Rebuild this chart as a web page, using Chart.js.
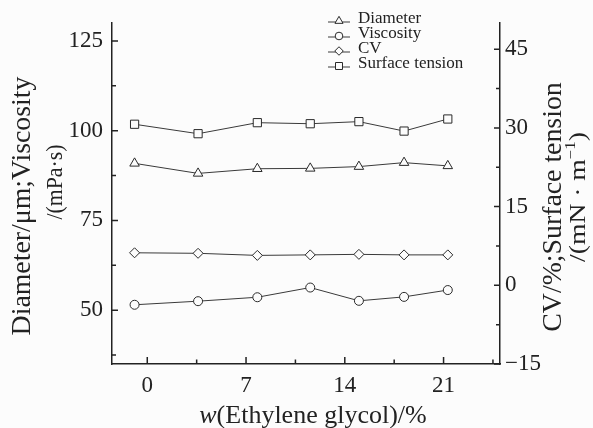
<!DOCTYPE html>
<html>
<head>
<meta charset="utf-8">
<script src="https://cdn.jsdelivr.net/npm/chart.js@4.4.0/dist/chart.umd.min.js"></script>
<style>
  html, body { margin: 0; padding: 0; background: #fcfcfc; }
  #wrap { width: 593px; height: 428px; }
</style>
</head>
<body>
<div id="wrap"><canvas id="chart" width="593" height="428"></canvas></div>
<script>
// values
const glycol = [-0.9, 3.6, 7.8, 11.55, 15.0, 18.2, 21.3];
const diameter = [90.9, 88.1, 89.4, 89.5, 90.0, 91.1, 90.2];
const viscosity = [51.5, 52.5, 53.6, 56.3, 52.6, 53.7, 55.6];
const cv = [6.2, 6.1, 5.7, 5.8, 5.9, 5.8, 5.8];
const surfaceTension = [30.7, 28.9, 31.0, 30.8, 31.2, 29.4, 31.7];

const xTicks = [0, 7, 14, 21];
const xMinorTicks = [3.5, 10.5, 17.5, 24.5];
const leftTicks = [50, 75, 100, 125];
const leftMinorTicks = [37.5, 62.5, 87.5, 112.5];
const rightTicks = [-15, 0, 15, 30, 45];
const rightMinorTicks = [-7.5, 7.5, 22.5, 37.5];

const serif = "'Liberation Serif', 'Times New Roman', serif";
const ink = '#222';
const paper = '#fcfcfc';

function series(label, values, axis, style, radius) {
  return {
    label: label,
    yAxisID: axis,
    data: values.map((v, i) => ({ x: glycol[i], y: v })),
    borderColor: '#3a3a3a',
    borderWidth: 1,
    pointStyle: style,
    pointRadius: radius,
    pointBackgroundColor: paper,
    pointBorderColor: '#2a2a2a',
    pointBorderWidth: 1,
    tension: 0
  };
}

function setTicks(list) {
  return function (scale) { scale.ticks = list.map(v => ({ value: v })); };
}

// ticks point into the plot, majors longer than minors
const innerTicks = {
  id: 'innerTicks',
  afterDraw(chart) {
    const ctx = chart.ctx;
    const a = chart.chartArea;
    const x = chart.scales.x, y = chart.scales.y, y1 = chart.scales.y1;
    ctx.save();
    ctx.strokeStyle = ink;
    ctx.lineWidth = 1.5;
    ctx.beginPath();
    xTicks.forEach(v => { const p = x.getPixelForValue(v); ctx.moveTo(p, a.bottom); ctx.lineTo(p, a.bottom - 7); });
    xMinorTicks.forEach(v => { const p = x.getPixelForValue(v); ctx.moveTo(p, a.bottom); ctx.lineTo(p, a.bottom - 4.5); });
    leftTicks.forEach(v => { const p = y.getPixelForValue(v); ctx.moveTo(a.left, p); ctx.lineTo(a.left + 6, p); });
    leftMinorTicks.forEach(v => { const p = y.getPixelForValue(v); ctx.moveTo(a.left, p); ctx.lineTo(a.left + 4, p); });
    rightTicks.forEach(v => { const p = y1.getPixelForValue(v); ctx.moveTo(a.right, p); ctx.lineTo(a.right - 6, p); });
    rightMinorTicks.forEach(v => { const p = y1.getPixelForValue(v); ctx.moveTo(a.right, p); ctx.lineTo(a.right - 4, p); });
    ctx.stroke();
    ctx.restore();
  }
};

// parts: [text, font, dy]; stretch widens along the text direction
function drawParts(ctx, parts, cx, cy, stretch) {
  stretch = stretch || 1;
  let total = 0;
  parts.forEach(p => { ctx.font = p[1]; total += ctx.measureText(p[0]).width; });
  ctx.save();
  ctx.translate(cx, cy);
  ctx.scale(stretch, 1);
  let pos = -total / 2;
  parts.forEach(p => {
    ctx.font = p[1];
    ctx.fillText(p[0], pos, p[2] || 0);
    pos += ctx.measureText(p[0]).width;
  });
  ctx.restore();
}

function rotated(ctx, x, y, fn) {
  ctx.save();
  ctx.translate(x, y);
  ctx.rotate(-Math.PI / 2);
  fn();
  ctx.restore();
}

const axisTitles = {
  id: 'axisTitles',
  afterDraw(chart) {
    const ctx = chart.ctx;
    const big = '27px ' + serif;
    const mid = '23px ' + serif;
    ctx.save();
    ctx.fillStyle = ink;
    ctx.textBaseline = 'middle';
    ctx.textAlign = 'left';
    drawParts(ctx, [['w', 'italic 26px ' + serif], ['(Ethylene glycol)/%', '26px ' + serif]], 313, 416);

    rotated(ctx, 23, 206, () => drawParts(ctx, [['Diameter/μm;Viscosity', big]], 0, 0, 1.03));
    rotated(ctx, 56, 182, () => drawParts(ctx, [['/(mPa·s)', mid]], 0, 0, 0.95));
    rotated(ctx, 554, 207, () => drawParts(ctx, [['CV/%;Surface tension', big]], 0, 0, 1.03));
    rotated(ctx, 579, 197, () => drawParts(ctx,
      [['/(mN · m', mid], ['−1', '14px ' + serif, -8], [')', mid]], 0, 0, 1.2));

    ctx.restore();
  }
};

function marker(ctx, style, x, y, r) {
  ctx.beginPath();
  if (style === 'triangle') {
    ctx.moveTo(x, y - r);
    ctx.lineTo(x + r * 0.866, y + r * 0.5);
    ctx.lineTo(x - r * 0.866, y + r * 0.5);
    ctx.closePath();
  } else if (style === 'circle') {
    ctx.arc(x, y, r, 0, Math.PI * 2);
  } else if (style === 'rectRot') {
    ctx.moveTo(x, y - r); ctx.lineTo(x + r, y); ctx.lineTo(x, y + r); ctx.lineTo(x - r, y);
    ctx.closePath();
  } else {
    const s = r * Math.SQRT1_2;
    ctx.rect(x - s, y - s, 2 * s, 2 * s);
  }
  ctx.fill();
  ctx.stroke();
}

const cornerLegend = {
  id: 'cornerLegend',
  afterDraw(chart) {
    const ctx = chart.ctx;
    ctx.save();
    ctx.font = '17px ' + serif;
    ctx.textBaseline = 'middle';
    chart.data.datasets.forEach((ds, i) => {
      const yy = 19 + i * 15;
      ctx.strokeStyle = '#3a3a3a';
      ctx.lineWidth = 1;
      ctx.beginPath();
      ctx.moveTo(328, yy + 3); ctx.lineTo(350, yy + 3);
      ctx.stroke();
      ctx.fillStyle = paper;
      ctx.strokeStyle = '#2a2a2a';
      marker(ctx, ds.pointStyle, 339, yy + 2, ds.pointRadius * 0.85);
      ctx.fillStyle = ink;
      ctx.fillText(ds.label, 358, yy);
    });
    ctx.restore();
  }
};

const tickFont = { family: serif, size: 23 };

new Chart(document.getElementById('chart'), {
  type: 'line',
  data: {
    datasets: [
      series('Diameter', diameter, 'y', 'triangle', 5.5),
      series('Viscosity', viscosity, 'y', 'circle', 4.5),
      series('CV', cv, 'y1', 'rectRot', 5),
      series('Surface tension', surfaceTension, 'y1', 'rect', 5.8)
    ]
  },
  options: {
    responsive: false,
    animation: false,
    layout: { padding: { top: 23, left: 0, right: 0, bottom: 0 } },
    plugins: { legend: { display: false }, tooltip: { enabled: false } },
    scales: {
      x: {
        type: 'linear', min: -2.5, max: 25,
        afterBuildTicks: setTicks(xTicks),
        afterFit: s => { s.height = 64; },
        grid: { display: false, drawTicks: false },
        border: { display: true, color: ink, width: 1.5 },
        ticks: { font: tickFont, color: ink, padding: 8, maxRotation: 0 }
      },
      y: {
        type: 'linear', position: 'left', min: 35, max: 130,
        afterBuildTicks: setTicks(leftTicks),
        afterFit: s => { s.width = 112; },
        grid: { display: false, drawTicks: false },
        border: { display: true, color: ink, width: 1.5 },
        ticks: { font: tickFont, color: ink, padding: 9 }
      },
      y1: {
        type: 'linear', position: 'right', min: -15, max: 50,
        afterBuildTicks: setTicks(rightTicks),
        afterFit: s => { s.width = 93; },
        grid: { display: false, drawTicks: false },
        border: { display: true, color: ink, width: 1.5 },
        ticks: { font: tickFont, color: ink, padding: 5, callback: v => String(v).replace('-', '−') }
      }
    }
  },
  plugins: [innerTicks, axisTitles, cornerLegend]
});
</script>
</body>
</html>
